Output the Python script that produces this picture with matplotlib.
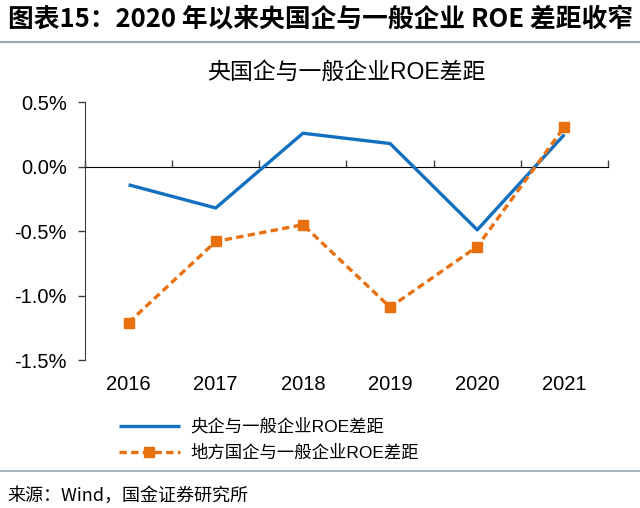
import matplotlib.pyplot as plt
from matplotlib.lines import Line2D

plt.rcParams['font.family'] = ['Liberation Sans', 'Noto Sans CJK SC', 'DejaVu Sans']

years = ['2016', '2017', '2018', '2019', '2020', '2021']
central = [-0.14, -0.32, 0.26, 0.18, -0.49, 0.25]
local = [-1.21, -0.58, -0.45, -1.09, -0.62, 0.31]

blue = '#1170C0'
orange = '#E8700F'

fig = plt.figure(figsize=(6.4, 5.08), dpi=100)
ax = fig.add_axes([0.1328, 0.2913, 0.8172, 0.5073])

x = list(range(len(years)))
ax.plot(x, central, color=blue, lw=2.4, solid_capstyle='butt',
        label='央企与一般企业ROE差距')
ax.plot(x, local, color=orange, lw=2.4, ls=(0, (2.2, 1.3)), marker='s',
        ms=7, label='地方国企与一般企业ROE差距')

ax.set_xlim(-0.5, 5.5)
ax.set_ylim(-1.5, 0.5)
ax.set_yticks([0.5, 0.0, -0.5, -1.0, -1.5])
ax.set_yticklabels(['0.5%', '0.0%', '-0.5%', '-1.0%', '-1.5%'])
ax.set_xticks(x)
ax.set_xticklabels(years)
ax.tick_params(axis='x', length=0, pad=11, labelsize=14.5)
ax.tick_params(axis='y', length=5, width=1, color='#404040', labelsize=14.5, pad=8)
for s in ['top', 'right', 'bottom']:
    ax.spines[s].set_visible(False)
ax.spines['left'].set_color('#404040')

# zero line with category boundary ticks
sec = ax.secondary_xaxis(0.75)
sec.set_xticks([-0.5, 0.5, 1.5, 2.5, 3.5, 4.5, 5.5])
sec.set_xticklabels([])
sec.tick_params(length=5, width=1, color='#404040', direction='out')
sec.spines['bottom'].set_color('#404040')

ax.set_title('央国企与一般企业ROE差距', fontsize=16.5, pad=17)

fig.text(0.012, 0.963, '图表15：2020 年以来央国企与一般企业 ROE 差距收窄',
         fontsize=18.5, fontweight='bold', fontstyle='italic', va='center',
         family=['Noto Sans CJK SC', 'DejaVu Sans'])
fig.add_artist(Line2D([0, 1], [0.917, 0.917], color='#9aa5ad', lw=1.5))
fig.add_artist(Line2D([0, 1], [0.073, 0.073], color='#9aa5ad', lw=1.2))
fig.text(0.012, 0.024, '来源：Wind，国金证券研究所', fontsize=13, va='center',
         family=['Noto Sans CJK SC', 'DejaVu Sans'])

handles, labels = ax.get_legend_handles_labels()
fig.legend(handles, labels, loc='center', bbox_to_anchor=(0.42, 0.135),
           frameon=False, fontsize=12.5, handlelength=3.5, labelspacing=0.55,
           handletextpad=0.6)

fig.savefig('out.png', dpi=100)
